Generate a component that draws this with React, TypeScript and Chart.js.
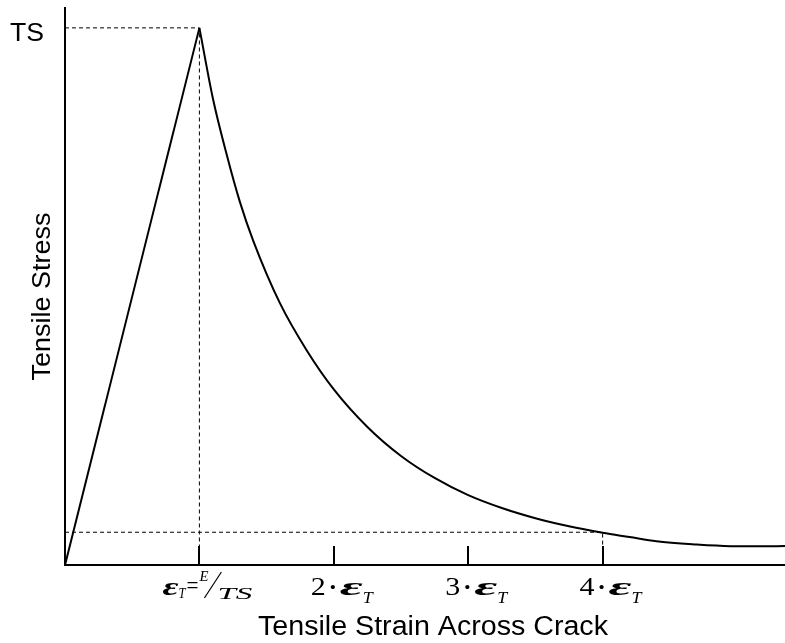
import React, { useEffect, useRef } from 'react';
import { Chart, registerables } from 'chart.js';

Chart.register(...registerables);

// ---- data (strain in multiples of eps_T, stress as fraction of TS) ----
const RISE_STRAIN = [0, 1];
const RISE_STRESS = [0, 1];
const DECAY_STRAIN = [1, 1.1, 1.2, 1.3, 1.4, 1.6, 1.8, 2.0, 2.25, 2.5, 2.75, 3.0, 3.25, 3.5, 3.75, 4.0, 4.2, 4.4, 4.7, 4.95, 5.17, 5.357];
const DECAY_STRESS = [1, 0.869, 0.767, 0.677, 0.604, 0.487, 0.399, 0.327, 0.257, 0.203, 0.162, 0.13, 0.106, 0.087, 0.072, 0.06, 0.052, 0.044, 0.038, 0.035, 0.0347, 0.0352];
const PEAK_STRAIN = 1;
const PEAK_STRESS = 1;
const RESIDUAL_STRAIN = 4;
const RESIDUAL_STRESS = 0.061;
const X_TICKS = [1, 2, 3, 4];
const X_TICK_MULTIPLIERS = ['', '2', '3', '4'];
const Y_TICK_LABEL = 'TS';
const X_TITLE = 'Tensile Strain Across Crack';
const Y_TITLE = 'Tensile Stress';
const X_MAX = 5.357;
const Y_MAX = 1.037;

const SANS = "'Liberation Sans', Arial, sans-serif";
const SERIF = "'Liberation Serif', 'Times New Roman', serif";

function stretchText(ctx: CanvasRenderingContext2D, text: string, font: string, left: number, baseline: number, width: number) {
  ctx.save();
  ctx.font = font;
  ctx.textAlign = 'left';
  ctx.textBaseline = 'alphabetic';
  const w = ctx.measureText(text).width || 1;
  ctx.translate(left, baseline);
  ctx.scale(width / w, 1);
  ctx.fillText(text, 0, 0);
  ctx.restore();
}

const annotatePlugin = {
  id: 'annotate',
  afterDraw(chart: any) {
    const { ctx, chartArea } = chart;
    const xs = chart.scales.x;
    const ys = chart.scales.y;
    const ay = ys.getPixelForValue(0);
    ctx.save();
    ctx.fillStyle = '#000';
    ctx.strokeStyle = '#000';

    // inward tick marks
    ctx.lineWidth = 2;
    X_TICKS.forEach((v) => {
      const px = Math.round(xs.getPixelForValue(v));
      ctx.beginPath();
      ctx.moveTo(px, ay);
      ctx.lineTo(px, ay - 19);
      ctx.stroke();
    });

    // tick labels
    X_TICKS.forEach((v, i) => {
      const tx = xs.getPixelForValue(v);
      const mult = X_TICK_MULTIPLIERS[i];
      if (!mult) {
        stretchText(ctx, '\u03B5', `bold italic 26px ${SERIF}`, tx - 37, ay + 30, 16);
        stretchText(ctx, 'T', `italic 15px ${SERIF}`, tx - 21, ay + 33, 7);
        stretchText(ctx, '=', `26px ${SERIF}`, tx - 13, ay + 29, 12);
        stretchText(ctx, 'E', `italic 15px ${SERIF}`, tx, ay + 16, 9);
        ctx.lineWidth = 1.2;
        ctx.beginPath();
        ctx.moveTo(tx + 5, ay + 33);
        ctx.lineTo(tx + 22, ay + 7);
        ctx.stroke();
        stretchText(ctx, 'TS', `italic 17px ${SERIF}`, tx + 18, ay + 34, 35);
      } else {
        stretchText(ctx, mult, `26px ${SERIF}`, tx - 23, ay + 30, 15);
        ctx.save();
        ctx.font = `bold 26px ${SERIF}`;
        ctx.textAlign = 'center';
        ctx.textBaseline = 'alphabetic';
        ctx.fillText('\u00B7', tx - 1, ay + 30);
        ctx.restore();
        stretchText(ctx, '\u03B5', `bold italic 26px ${SERIF}`, tx + 6, ay + 30, 23);
        stretchText(ctx, 'T', `italic 16px ${SERIF}`, tx + 29, ay + 38, 10);
      }
    });

    // y tick label
    const py = ys.getPixelForValue(PEAK_STRESS);
    stretchText(ctx, Y_TICK_LABEL, `26px ${SANS}`, 10, py + 13, 34);

    // x title
    const cx = (chartArea.left + chartArea.right) / 2 + 8;
    stretchText(ctx, X_TITLE, `27px ${SANS}`, cx - 175, ay + 70, 350);

    // y title
    const cy = (chartArea.top + chartArea.bottom) / 2 + 10;
    ctx.save();
    ctx.translate(50, cy + 84);
    ctx.rotate(-Math.PI / 2);
    stretchText(ctx, Y_TITLE, `26px ${SANS}`, 0, 0, 168);
    ctx.restore();

    ctx.restore();
  },
};

export default function App() {
  const ref = useRef<HTMLCanvasElement | null>(null);

  useEffect(() => {
    if (!ref.current) return;
    const pts = (xs: number[], ys: number[]) => xs.map((x, i) => ({ x, y: ys[i] }));
    const chart = new Chart(ref.current, {
      type: 'line',
      data: {
        datasets: [
          {
            data: [
              { x: 0, y: PEAK_STRESS },
              { x: PEAK_STRAIN, y: PEAK_STRESS },
              { x: PEAK_STRAIN, y: 0 },
            ],
            borderColor: '#000',
            borderWidth: 1,
            borderDash: [4, 3],
            pointRadius: 0,
            tension: 0,
          },
          {
            data: [
              { x: 0, y: RESIDUAL_STRESS },
              { x: RESIDUAL_STRAIN, y: RESIDUAL_STRESS },
              { x: RESIDUAL_STRAIN, y: 0 },
            ],
            borderColor: '#000',
            borderWidth: 1,
            borderDash: [4, 3],
            pointRadius: 0,
            tension: 0,
          },
          {
            data: pts(RISE_STRAIN, RISE_STRESS),
            borderColor: '#000',
            borderWidth: 2,
            pointRadius: 0,
            tension: 0,
          },
          {
            data: pts(DECAY_STRAIN, DECAY_STRESS),
            borderColor: '#000',
            borderWidth: 2,
            pointRadius: 0,
            cubicInterpolationMode: 'monotone',
          },
        ],
      } as any,
      options: {
        responsive: false,
        devicePixelRatio: 1,
        animation: false,
        layout: { padding: { top: 8, left: 0, right: 0, bottom: 0 } },
        plugins: { legend: { display: false }, tooltip: { enabled: false } },
        scales: {
          x: {
            type: 'linear',
            min: 0,
            max: X_MAX,
            grid: { display: false, drawTicks: false },
            ticks: { display: false },
            border: { display: true, color: '#000', width: 2 },
            afterFit: (s: any) => {
              s.height = 78;
            },
          },
          y: {
            type: 'linear',
            min: 0,
            max: Y_MAX,
            grid: { display: false, drawTicks: false },
            ticks: { display: false },
            border: { display: true, color: '#000', width: 2 },
            afterFit: (s: any) => {
              s.width = 65;
            },
          },
        },
      } as any,
      plugins: [annotatePlugin],
    });
    return () => chart.destroy();
  }, []);

  return (
    <div style={{ position: 'absolute', left: 0, top: 0, width: 785, height: 643, background: '#fff' }}>
      <canvas ref={ref} width={785} height={643} style={{ display: 'block' }} />
    </div>
  );
}
